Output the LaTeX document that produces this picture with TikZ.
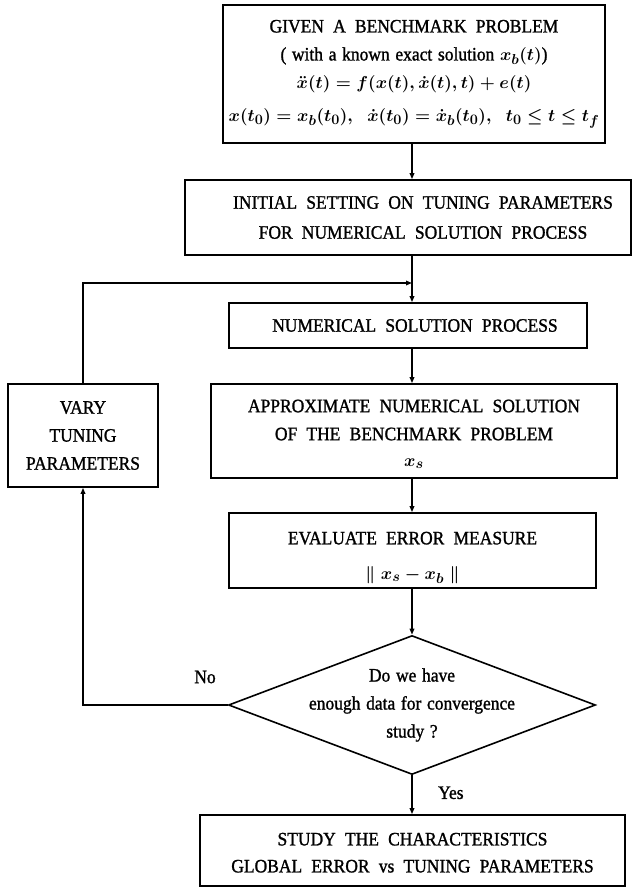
\documentclass[tikz,border=0pt]{standalone}
\usepackage{fontspec}
\setmainfont{Liberation Serif}[WordSpace=1.3,FakeStretch=0.92,FakeBold=1.2]
\newfontfamily\capsfont{Liberation Serif}[WordSpace=2.1,FakeStretch=0.92,FakeBold=1.2]
\usetikzlibrary{shapes.geometric,arrows.meta}

\begin{document}
\begin{tikzpicture}[x=1pt,y=-1pt,line width=1.6pt,
  txt/.style={font=\fontsize{19}{28}\selectfont\boldmath},
  box/.style={draw,rectangle,align=center,inner sep=0pt,
    font=\fontsize{19}{28}\selectfont\boldmath\capsfont},
  arr/.style={-{Triangle[length=6pt,width=4.5pt]}},
  decision/.style={draw,diamond,minimum width=367pt,minimum height=139pt,inner sep=0pt}]

\useasboundingbox (0,0) rectangle (632,889);

% main chain of process boxes
\node[box,minimum width=382pt,minimum height=138pt] (given) at (414,74)
  {GIVEN A BENCHMARK PROBLEM\\
   {\rmfamily ( with a known exact solution }$x_b(t)$)\\
   $\ddot{x}(t)=f(x(t),\dot{x}(t),t)+e(t)$\\[5pt]
   $x(t_0)=x_b(t_0),\;\;\dot{x}(t_0)=\dot{x}_b(t_0),\;\;t_0\le t\le t_f$};

\node[box,minimum width=446pt,minimum height=75pt] (init) at (408,217.5)
  {\hspace*{30pt}INITIAL SETTING ON TUNING PARAMETERS\\[2pt]
   \hspace*{30pt}FOR NUMERICAL SOLUTION PROCESS};

\node[box,minimum width=358pt,minimum height=45pt] (proc) at (408,325.5)
  {\hspace*{14pt}NUMERICAL SOLUTION PROCESS};

\node[box,minimum width=406pt,minimum height=94pt] (approx) at (414,431)
  {\rule{0pt}{19pt}APPROXIMATE NUMERICAL SOLUTION\\
   OF THE BENCHMARK PROBLEM\\[-2pt]
   $x_s$};

\node[box,minimum width=150pt,minimum height=103pt] (vary) at (83,435.5)
  {VARY\\TUNING\\PARAMETERS};

\node[box,minimum width=367pt,minimum height=75pt] (err) at (412.5,550.5)
  {\rule{0pt}{27pt}EVALUATE ERROR MEASURE\\[7pt]
   $\|\;x_s-x_b\;\|$};

\node[decision] (dec) at (412,705) {};
\node[txt,align=center] (dectext) at (412,705)
  {Do we have\\enough data for convergence\\study ?};

\node[box,minimum width=425pt,minimum height=71pt] (study) at (412.5,850.5)
  {\rule{0pt}{17pt}STUDY THE CHARACTERISTICS\\[-1pt]
   GLOBAL ERROR vs TUNING PARAMETERS};

% feedback junction on the spine
\coordinate (join) at (412,283);

% connectors
\draw[arr] (given.south -| join) -- (init.north -| join);
\draw[arr] (init.south -| join) -- (proc.north -| join);
\draw[arr] (vary.north) |- (join);
\draw[arr] (proc.south -| join) -- (approx.north -| join);
\draw[arr] (approx.south -| join) -- (err.north -| join);
\draw[arr] (err.south -| join) -- (dec.north);
\draw[arr] (dec.south) -- (study.north -| join)
  node[txt,pos=0.45,anchor=west,xshift=22pt] (yes) {Yes};
\draw[arr] (dec.west) -| (vary.south);

\node[txt] (no) at (205,677) {No};
\end{tikzpicture}
\end{document}
